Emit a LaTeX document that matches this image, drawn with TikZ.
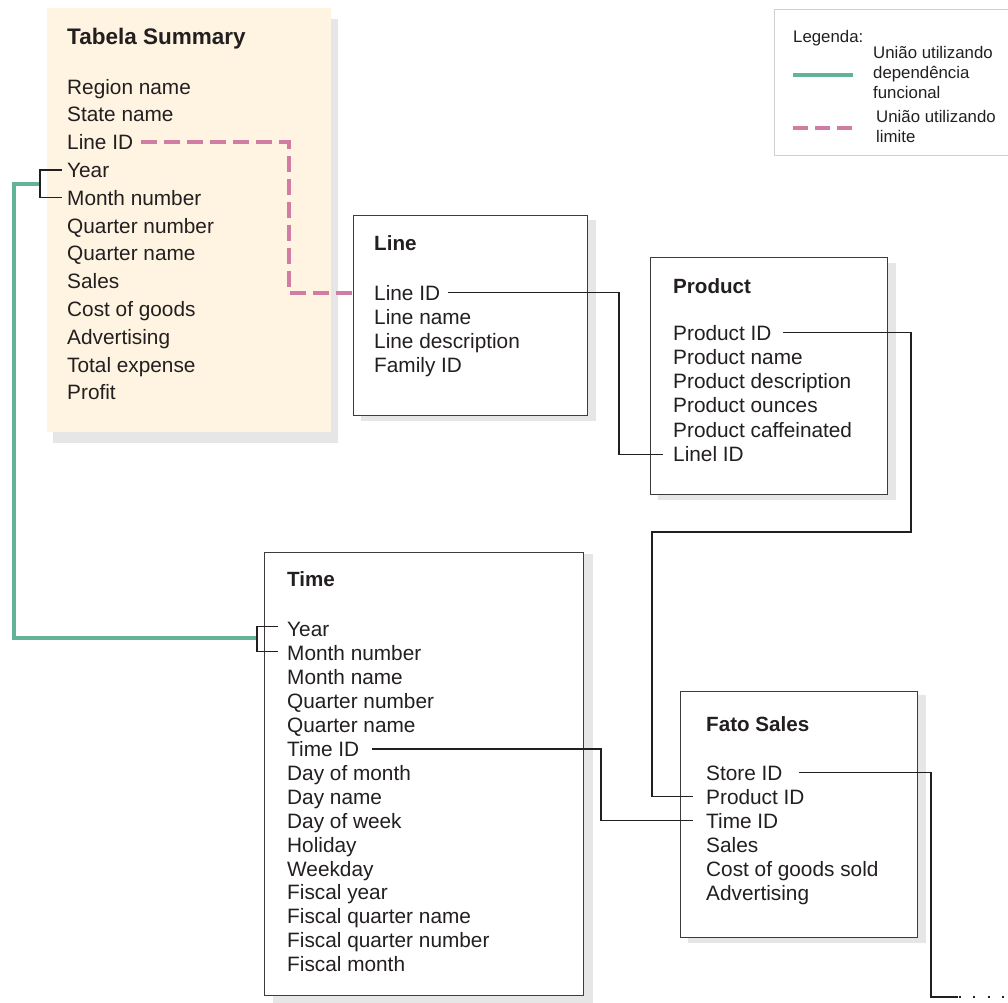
\documentclass[tikz,border=0pt]{standalone}
\usepackage{fontspec}
\setmainfont{Liberation Sans}
\usetikzlibrary{backgrounds}

\definecolor{ink}{HTML}{231F20}
\definecolor{cream}{HTML}{FFF4E1}
\definecolor{shadowgray}{HTML}{E6E6E6}
\definecolor{frame}{HTML}{3C3C3C}
\definecolor{fdgreen}{HTML}{63B39B}
\definecolor{limpink}{HTML}{D07CA3}
\definecolor{legframe}{HTML}{D0D0D0}

\begin{document}
\begin{tikzpicture}[x=1pt,y=-1pt,
  rowtext/.style={anchor=base west, inner sep=0pt, text height=14.8pt, text depth=0pt,
                  font=\fontsize{20.8}{24}\selectfont, text=ink},
  headtext/.style={anchor=base west, inner sep=0pt,
                  font=\fontsize{20.6}{24}\selectfont\bfseries, text=ink},
  tablebox/.style={draw=frame, line width=1.2pt, fill=white, anchor=north west, inner sep=0pt},
  conn/.style={draw=ink, line width=1.2pt},
  fdline/.style={draw=fdgreen, line width=3.5pt},
  limline/.style={draw=limpink, line width=4pt, dash pattern=on 16pt off 7pt},
  legtext/.style={anchor=base west, inner sep=0pt, font=\fontsize{16.8}{20}\selectfont, text=ink},
  dropshadow/.style={fill=shadowgray, draw=none},
]
\useasboundingbox (0,0) rectangle (1008,1002);

% ---------- table frames ----------
\node[fill=cream, anchor=north west, inner sep=0pt, minimum width=284pt, minimum height=424pt] (summary) at (47,8) {};
\node[tablebox, minimum width=234pt, minimum height=200pt] (lineBox) at (353,215) {};
\node[tablebox, minimum width=237pt, minimum height=237pt] (productBox) at (650,257) {};
\node[tablebox, minimum width=319pt, minimum height=443pt] (timeBox) at (264,552) {};
\node[tablebox, minimum width=237pt, minimum height=246pt] (salesBox) at (680,691) {};

% drop shadows behind the frames
\begin{scope}[on background layer]
  \path[dropshadow] ([xshift=6pt,yshift=-11pt]summary.north west) rectangle ([xshift=7pt,yshift=-11pt]summary.south east);
  \path[dropshadow] ([xshift=8pt,yshift=-5pt]lineBox.north west) rectangle ([xshift=8pt,yshift=-5pt]lineBox.south east);
  \path[dropshadow] ([xshift=8pt,yshift=-6pt]productBox.north west) rectangle ([xshift=8pt,yshift=-5pt]productBox.south east);
  \path[dropshadow] ([xshift=9pt,yshift=-2pt]timeBox.north west) rectangle ([xshift=9pt,yshift=-8pt]timeBox.south east);
  \path[dropshadow] ([xshift=8pt,yshift=-4pt]salesBox.north west) rectangle ([xshift=8pt,yshift=-5pt]salesBox.south east);
\end{scope}

% ---------- titles ----------
\node[headtext, font=\fontsize{22.5}{26}\selectfont\bfseries] (summaryTitle) at (67,44) {Tabela Summary};
\node[headtext] (lineTitle) at (374,250.7) {Line};
\node[headtext] (productTitle) at (673,293.3) {Product};
\node[headtext] (timeTitle) at (287,586.7) {Time};
\node[headtext] (salesTitle) at (706,731.7) {Fato Sales};

% ---------- columns ----------
\foreach \txt [count=\i from 0] in {Region name, State name, Line ID, Year, Month number,
    Quarter number, Quarter name, Sales, Cost of goods, Advertising, Total expense, Profit}
  \node[rowtext] (s\i) at (67, 94+27.8*\i) {\txt};

\foreach \txt [count=\i from 0] in {Line ID, Line name, Line description, Family ID}
  \node[rowtext] (l\i) at (374, 300+24.3*\i) {\txt};

\foreach \txt [count=\i from 0] in {Product ID, Product name, Product description,
    Product ounces, Product caffeinated, Linel ID}
  \node[rowtext] (p\i) at (673, 340+24.3*\i) {\txt};

\foreach \txt [count=\i from 0] in {Year, Month number, Month name, Quarter number,
    Quarter name, Time ID, Day of month, Day name, Day of week, Holiday, Weekday,
    Fiscal year, Fiscal quarter name, Fiscal quarter number, Fiscal month}
  \node[rowtext] (t\i) at (287, 636.7+23.93*\i) {\txt};

\foreach \txt [count=\i from 0] in {Store ID, Product ID, Time ID, Sales,
    Cost of goods sold, Advertising}
  \node[rowtext] (f\i) at (706, 780+24.1*\i) {\txt};

% ---------- joins ----------
% limit join: Line ID of the summary to the Line table
\coordinate (pkturn) at (289,0);
\draw[limline] ([xshift=8pt]s2.east) -| (pkturn |- l0) -- (lineBox.west |- l0);

% functional dependency join: Year / Month number
\coordinate (sbr) at (40,184);
\coordinate (gx) at (14,0);
\coordinate (tbr) at (257,638);
\draw[fdline] (sbr) -| (gx |- tbr) -- (tbr);
\draw[conn] ([xshift=-5pt]s3.west) -| (sbr) |- ([xshift=-5pt]s4.west);
\draw[conn] ([xshift=-9pt,yshift=3pt]t0.west) -| (tbr) |- ([xshift=-9pt,yshift=2pt]t1.west);

% key joins between the tables
\coordinate (lp) at (619,0);
\draw[conn] ([xshift=8pt]l0.east) -| (lp |- p5) -- ([xshift=-10pt]p5.west);

\coordinate (pa) at (911,532);
\coordinate (pb) at (652,532);
\draw[conn] ([xshift=11pt]p0.east) -| (pa) -- (pb) |- ([xshift=-13pt]f1.west);

\coordinate (tp) at (601,0);
\draw[conn] ([xshift=13pt]t5.east) -| (tp |- f2) -- ([xshift=-13pt]f2.west);

\coordinate (oa) at (931,997);
\coordinate (ob) at (958,997);
\coordinate (oc) at (1008,997);
\draw[conn] ([xshift=16pt]f0.east) -| (oa) -- (ob);
\draw[ink, line width=2pt, dash pattern=on 2pt off 12.3pt] ([xshift=1pt]ob) -- (oc);

% ---------- legend ----------
\node[draw=legframe, line width=1pt, anchor=north west, inner sep=0pt,
      minimum width=234pt, minimum height=146pt] (legend) at (774,9) {};
\node[legtext] (leg0) at (793,42.7) {Legenda:};
\node[legtext] (leg1) at (873,58.3) {União utilizando};
\node[legtext] (leg2) at (873,78) {dependência};
\node[legtext] (leg3) at (873,98) {funcional};
\node[legtext] (leg4) at (876,122.7) {União utilizando};
\node[legtext] (leg5) at (876,142) {limite};
\coordinate (lga) at (793,74.7);
\coordinate (lgb) at (853,74.7);
\coordinate (lgc) at (793,127.7);
\coordinate (lgd) at (853,127.7);
\draw[fdline, line width=4pt] (lga) -- (lgb);
\draw[limline, dash pattern=on 15pt off 7pt] (lgc) -- (lgd);
\end{tikzpicture}
\end{document}
